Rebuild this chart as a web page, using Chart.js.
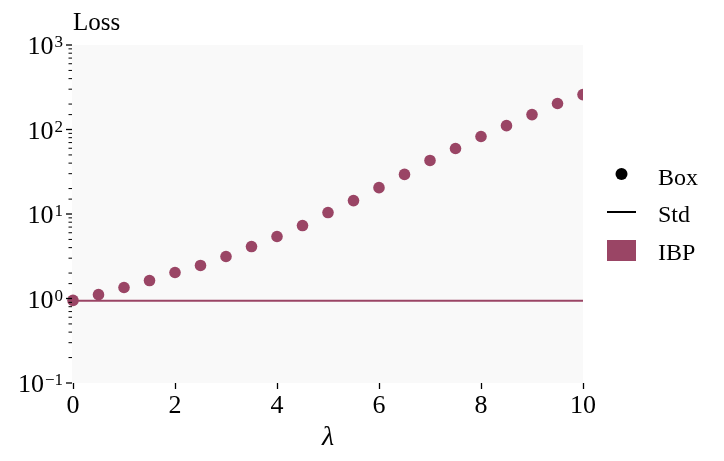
<!DOCTYPE html>
<html>
<head>
<meta charset="utf-8">
<script src="https://cdn.jsdelivr.net/npm/chart.js@4.4.1/dist/chart.umd.min.js"></script>
<style>
  html, body { margin: 0; padding: 0; background: #fff; }
  canvas { display: block; }
</style>
</head>
<body>
<canvas id="lossChart" width="724" height="461"></canvas>
<script>
// ---- Data ----
const lambdas = [0, 0.5, 1, 1.5, 2, 2.5, 3, 3.5, 4, 4.5, 5, 5.5, 6, 6.5, 7, 7.5, 8, 8.5, 9, 9.5, 10];
const boxLoss = [0.95, 1.11, 1.35, 1.63, 2.03, 2.46, 3.14, 4.12, 5.42, 7.3, 10.4, 14.4, 20.5, 29.4, 43, 59.6, 82.6, 111, 150, 203, 259];
const stdLambdas = [0, 10];
const stdLoss = [0.94, 0.94];
const xTicks = [0, 2, 4, 6, 8, 10];
const yExponents = [-1, 0, 1, 2, 3];
const legendNames = ['Box', 'Std', 'IBP'];

const IBP_COLOR = '#9a4565';
const FONT = "'Liberation Serif', 'DejaVu Serif', serif";

// ---- Plugins ----
const plotBackground = {
    id: 'plotBackground',
    beforeDraw(chart) {
        const { ctx, chartArea: a } = chart;
        ctx.save();
        ctx.fillStyle = '#f9f9f9';
        ctx.fillRect(a.left - 1, a.top, a.right - a.left + 1, a.bottom - a.top);
        ctx.restore();
    }
};

const logAxis = {
    id: 'logAxis',
    afterDraw(chart) {
        const { ctx, chartArea: a } = chart;
        const y = chart.scales.y;
        ctx.save();
        ctx.strokeStyle = '#000';
        y.ticks.forEach(t => {
            const p = y.getPixelForValue(t.value);
            const e = Math.log10(t.value);
            const major = Math.abs(e - Math.round(e)) < 1e-6;
            ctx.lineWidth = major ? 1.3 : 1;
            ctx.beginPath();
            ctx.moveTo(a.left - (major ? 7 : 4.5), p);
            ctx.lineTo(a.left - 1, p);
            ctx.stroke();
        });
        // tick labels 10^n
        ctx.fillStyle = '#000';
        ctx.textBaseline = 'alphabetic';
        yExponents.forEach(n => {
            const p = y.getPixelForValue(Math.pow(10, n));
            const sup = n < 0 ? '\u2212' + Math.abs(n) : String(n);
            ctx.font = '17px ' + FONT;
            const supW = ctx.measureText(sup).width;
            const right = a.left - 10;
            ctx.textAlign = 'right';
            ctx.fillText(sup, right, p + 2);
            ctx.font = '26px ' + FONT;
            ctx.fillText('10', right - supW - 1, p + 9);
        });
        // axis caption
        ctx.font = '25px ' + FONT;
        ctx.textAlign = 'left';
        ctx.fillText('Loss', a.left, 30);
        ctx.restore();
    }
};

const sideLegend = {
    id: 'sideLegend',
    afterDraw(chart) {
        const { ctx } = chart;
        ctx.save();
        ctx.font = '24px ' + FONT;
        ctx.fillStyle = '#000';
        ctx.textAlign = 'left';
        ctx.textBaseline = 'alphabetic';
        // Box — black dot
        ctx.beginPath();
        ctx.arc(621.5, 174, 6, 0, Math.PI * 2);
        ctx.fill();
        ctx.fillText(legendNames[0], 658, 185);
        // Std — black line
        ctx.strokeStyle = '#000';
        ctx.lineWidth = 2;
        ctx.beginPath();
        ctx.moveTo(607, 212);
        ctx.lineTo(636, 212);
        ctx.stroke();
        ctx.fillText(legendNames[1], 658, 222);
        // IBP — coloured patch
        ctx.fillStyle = IBP_COLOR;
        ctx.fillRect(607, 240, 29, 21);
        ctx.fillStyle = '#000';
        ctx.fillText(legendNames[2], 658, 260);
        ctx.restore();
    }
};

// ---- Chart ----
new Chart(document.getElementById('lossChart'), {
    type: 'scatter',
    data: {
        datasets: [
            {
                label: 'Box',
                data: lambdas.map((x, i) => ({ x, y: boxLoss[i] })),
                backgroundColor: IBP_COLOR,
                borderWidth: 0,
                pointRadius: 5.8,
                clip: { left: 12, top: 0, right: 0, bottom: 0 },
            },
            {
                label: 'Std',
                type: 'line',
                data: stdLambdas.map((x, i) => ({ x, y: stdLoss[i] })),
                borderColor: IBP_COLOR,
                borderWidth: 2.2,
                pointRadius: 0,
                fill: false,
            }
        ]
    },
    options: {
        responsive: false,
        animation: false,
        layout: { padding: { top: 45, right: 141, left: 0, bottom: 0 } },
        plugins: {
            legend: { display: false },
            tooltip: { enabled: false }
        },
        scales: {
            x: {
                type: 'linear',
                min: 0,
                max: 10,
                afterFit: s => { s.height = 78; },
                afterBuildTicks: s => { s.ticks = xTicks.map(v => ({ value: v })); },
                grid: {
                    drawOnChartArea: false,
                    drawTicks: true,
                    tickLength: 6,
                    tickWidth: 1.3,
                    tickColor: '#000'
                },
                border: { display: false },
                ticks: {
                    color: '#000',
                    padding: 2,
                    font: { family: FONT, size: 26 }
                },
                title: {
                    display: true,
                    text: 'λ',
                    color: '#000',
                    padding: { top: 0, bottom: 7 },
                    font: { family: FONT, size: 28, style: 'italic' }
                }
            },
            y: {
                type: 'logarithmic',
                min: 0.1,
                max: 1000,
                afterFit: s => { s.width = 73; },
                grid: { display: false },
                border: { display: false },
                ticks: { display: false }
            }
        }
    },
    plugins: [plotBackground, logAxis, sideLegend]
});
</script>
</body>
</html>
